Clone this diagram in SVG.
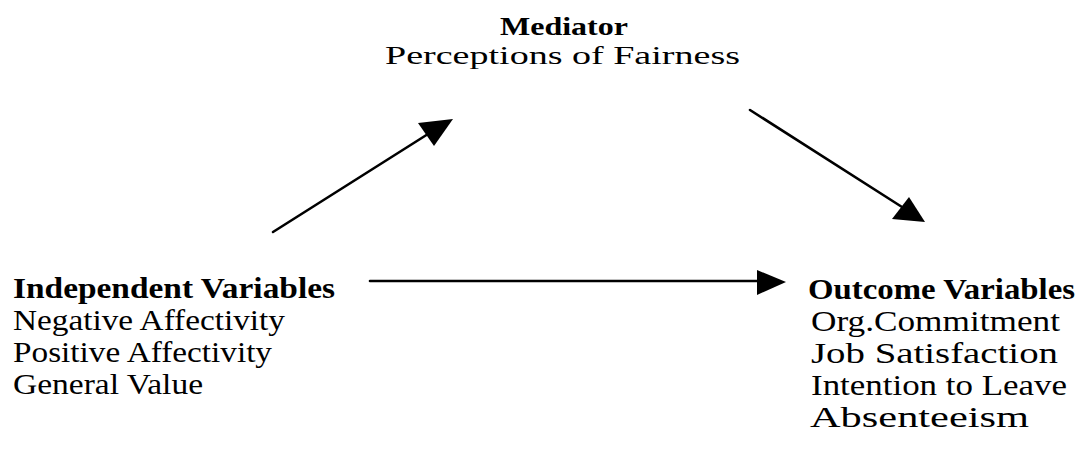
<svg xmlns="http://www.w3.org/2000/svg" width="1082" height="455" viewBox="0 0 1082 455">
<style>
text{font-family:"Liberation Serif","Times New Roman",serif;font-size:29px;fill:#000}
.b{font-weight:bold}
.m{font-size:26px}
.ln{stroke:#000;stroke-width:2.6;fill:none;stroke-linecap:round}
.hd{fill:#000;stroke:none}
</style>
<rect width="1082" height="455" fill="#fff"/>
<g id="mediator">
<text class="b m" x="500" y="35" textLength="128" lengthAdjust="spacingAndGlyphs">Mediator</text>
<text class="m" x="385" y="64" textLength="355" lengthAdjust="spacingAndGlyphs">Perceptions of Fairness</text>
</g>
<g id="independent">
<text class="b" x="13" y="298" textLength="322" lengthAdjust="spacingAndGlyphs">Independent Variables</text>
<text x="13" y="330" textLength="272" lengthAdjust="spacingAndGlyphs">Negative Affectivity</text>
<text x="13" y="362" textLength="259" lengthAdjust="spacingAndGlyphs">Positive Affectivity</text>
<text x="13" y="394" textLength="190" lengthAdjust="spacingAndGlyphs">General Value</text>
</g>
<g id="outcome">
<text class="b" x="808" y="299" textLength="267" lengthAdjust="spacingAndGlyphs">Outcome Variables</text>
<text x="811" y="331" textLength="249" lengthAdjust="spacingAndGlyphs">Org.Commitment</text>
<text x="811" y="363" textLength="247" lengthAdjust="spacingAndGlyphs">Job Satisfaction</text>
<text x="811" y="395" textLength="256" lengthAdjust="spacingAndGlyphs">Intention to Leave</text>
<text x="810" y="427" textLength="219" lengthAdjust="spacingAndGlyphs">Absenteeism</text>
</g>
<g id="connectors">
<line class="ln" x1="273" y1="232" x2="428" y2="134"/>
<polygon class="hd" points="453,119 418,123 434,146"/>
<line class="ln" x1="750" y1="110" x2="902" y2="207"/>
<polygon class="hd" points="925,222 892,219 909,197"/>
<line class="ln" x1="370" y1="281" x2="760" y2="281"/>
<polygon class="hd" points="786,282 757,270 757,295"/>
</g>
</svg>
